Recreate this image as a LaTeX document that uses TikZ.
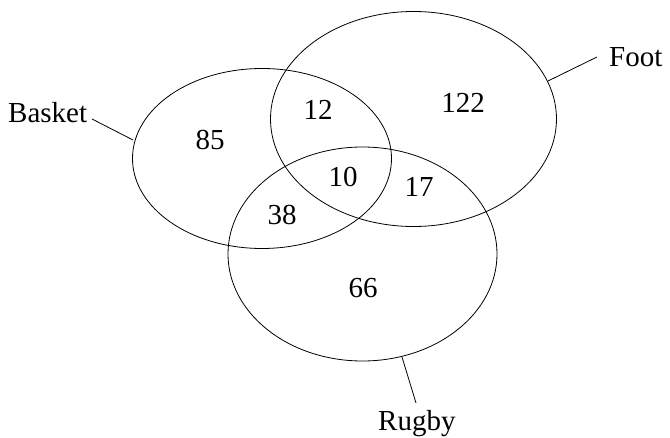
\documentclass[tikz,border=0pt]{standalone}
\usepackage{fontspec}
\setmainfont{Liberation Serif}
\usetikzlibrary{shapes.geometric}
\begin{document}
\begin{tikzpicture}[x=1pt,y=-1pt,
  setline/.style={line width=0.8pt,black},
  lbl/.style={inner sep=0pt,font=\fontsize{29}{32}\selectfont,anchor=base west},
  num/.style={inner sep=0pt,font=\fontsize{29}{32}\selectfont},
  venn/.style={setline,draw,ellipse,inner sep=0pt}]
\useasboundingbox (0,0) rectangle (670,438);
\node[venn,minimum width=259pt,minimum height=180pt] (basket) at (262,158.5) {};
\node[venn,minimum width=286pt,minimum height=215pt] (foot) at (413.5,119) {};
\node[venn,minimum width=269pt,minimum height=214pt] (rugby) at (362.5,254) {};
\node[lbl] (lb) at (8,123) {Basket};
\node[lbl] (lf) at (609,67) {Foot};
\node[lbl] (lr) at (378,431) {Rugby};
\coordinate (lbe) at (92,119);
\coordinate (bpt) at (133,140);
\coordinate (lfe) at (597,57);
\coordinate (fpt) at (548,81);
\coordinate (lre) at (416,403);
\coordinate (rpt) at (402,357);
\draw[setline] (lbe) -- (bpt);
\draw[setline] (lfe) -- (fpt);
\draw[setline] (lre) -- (rpt);
\node[num] (n85) at (210,140) {85};
\node[num] (n12) at (318,110) {12};
\node[num] (n122) at (463,103) {122};
\node[num] (n10) at (343,177) {10};
\node[num] (n17) at (419,187) {17};
\node[num] (n38) at (282,215) {38};
\node[num] (n66) at (363,288) {66};
\end{tikzpicture}
\end{document}
